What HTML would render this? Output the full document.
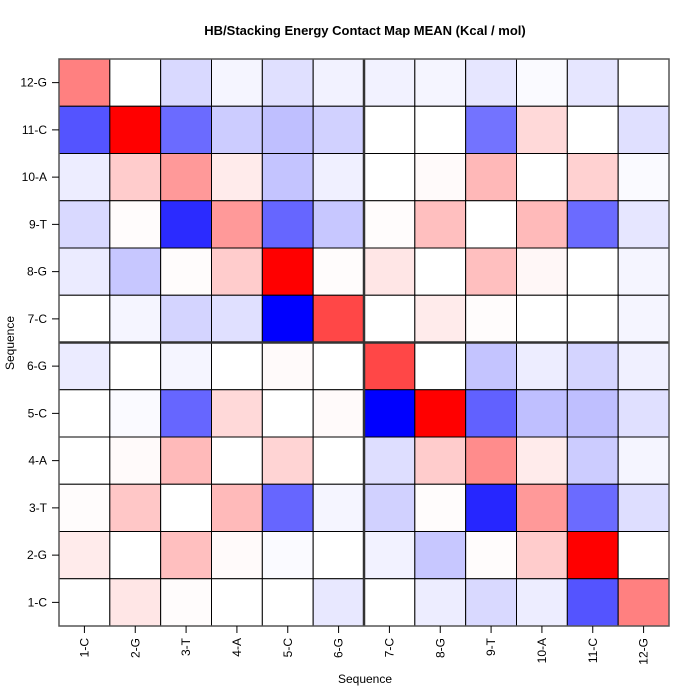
<!DOCTYPE html>
<html><head><meta charset="utf-8"><style>body{margin:0;background:#fff}svg{display:block;font-family:"Liberation Sans",sans-serif}</style></head>
<body>
<svg id="chart" width="700" height="700">
<text x="365" y="35" text-anchor="middle" font-size="13" font-weight="bold">HB/Stacking Energy Contact Map MEAN (Kcal / mol)</text>
<text x="365" y="683" text-anchor="middle" font-size="12">Sequence</text>
<text transform="translate(14,343) rotate(-90)" text-anchor="middle" font-size="12">Sequence</text>
<g id="cells"></g><g id="axes"></g>
</svg>
<script>
const labels = ["1-C","2-G","3-T","4-A","5-C","6-G","7-C","8-G","9-T","10-A","11-C","12-G"];
// rows listed from top (12-G) to bottom (1-C); positive = red, negative = blue
const row12 = [0.5,0,-0.15,-0.04,-0.12,-0.05,-0.05,-0.04,-0.1,-0.02,-0.1,0];
const row11 = [-0.67,1,-0.58,-0.2,-0.25,-0.18,0,0,-0.55,0.15,0,-0.12];
const row10 = [-0.07,0.2,0.4,0.08,-0.23,-0.06,0,0.02,0.28,0,0.18,-0.02];
const row9 = [-0.15,0.01,-0.83,0.4,-0.6,-0.22,0.01,0.25,0,0.27,-0.58,-0.1];
const row8 = [-0.08,-0.22,0.01,0.2,1,0.01,0.1,0,0.25,0.03,0,-0.04];
const row7 = [0,-0.04,-0.17,-0.12,-1,0.72,0,0.08,0.01,0,0,-0.04];
const row6 = [-0.08,0,-0.04,0,0.02,0,0.72,0,-0.23,-0.07,-0.17,-0.06];
const row5 = [0,-0.02,-0.6,0.15,0,0.02,-1,1,-0.62,-0.25,-0.25,-0.12];
const row4 = [0,0.02,0.27,0,0.17,0,-0.13,0.2,0.45,0.08,-0.2,-0.04];
const row3 = [0.01,0.22,0,0.27,-0.6,-0.04,-0.18,0.01,-0.85,0.4,-0.58,-0.13];
const row2 = [0.08,0,0.25,0.02,-0.02,0,-0.05,-0.22,0.01,0.2,1,0];
const row1 = [0,0.1,0.01,0,0,-0.09,0,-0.07,-0.15,-0.07,-0.67,0.5];
const rows = [row12,row11,row10,row9,row8,row7,row6,row5,row4,row3,row2,row1];

const L=59,R=669,T=59,B=626,n=labels.length;
const cw=(R-L)/n, rh=(B-T)/n;
const xPos=i=>L+i*cw, yPos=j=>T+j*rh;
const NS="http://www.w3.org/2000/svg";
function color(v){const k=Math.round(255*(1-Math.min(1,Math.abs(v))));return v>=0?`rgb(255,${k},${k})`:`rgb(${k},${k},255)`;}
const cells=document.getElementById('cells'), axes=document.getElementById('axes');
rows.forEach((r,j)=>r.forEach((v,i)=>{
  const e=document.createElementNS(NS,'rect');
  e.setAttribute('x',xPos(i));e.setAttribute('y',yPos(j));
  e.setAttribute('width',cw);e.setAttribute('height',rh);
  e.setAttribute('fill',color(v));e.setAttribute('stroke','#000');e.setAttribute('stroke-width','1');
  
  
  cells.appendChild(e);
}));
function line(x1,y1,x2,y2,w,c,name){const e=document.createElementNS(NS,'line');
 e.setAttribute('x1',x1);e.setAttribute('y1',y1);e.setAttribute('x2',x2);e.setAttribute('y2',y2);
 e.setAttribute('stroke',c);e.setAttribute('stroke-width',w);
 
 
 axes.appendChild(e);}
const mid=n/2;
line(xPos(mid),T,xPos(mid),B,2.5,'#333','vertical-divider');
line(L,yPos(mid),R,yPos(mid),2.5,'#333','horizontal-divider');
const fr=document.createElementNS(NS,'rect');
fr.setAttribute('x',L);fr.setAttribute('y',T);fr.setAttribute('width',R-L);fr.setAttribute('height',B-T);
fr.setAttribute('fill','none');fr.setAttribute('stroke','#555');fr.setAttribute('stroke-width','1.5');


axes.appendChild(fr);
labels.forEach((lab,i)=>{
  const cx=xPos(i)+cw/2;
  line(cx,B,cx,B+7,1,'#000','x-tick');
  const t=document.createElementNS(NS,'text');
  t.setAttribute('transform',`translate(${cx+4},${B+12}) rotate(-90)`);
  t.setAttribute('text-anchor','end');t.setAttribute('font-size','12');t.textContent=lab;
  
  
  axes.appendChild(t);
  const cy=yPos(n-1-i)+rh/2;
  line(L-7,cy,L,cy,1,'#000','y-tick');
  const u=document.createElementNS(NS,'text');
  u.setAttribute('x',L-12);u.setAttribute('y',cy+4);
  u.setAttribute('text-anchor','end');u.setAttribute('font-size','12');u.textContent=lab;
  
  
  axes.appendChild(u);
});
</script>
</body></html>
